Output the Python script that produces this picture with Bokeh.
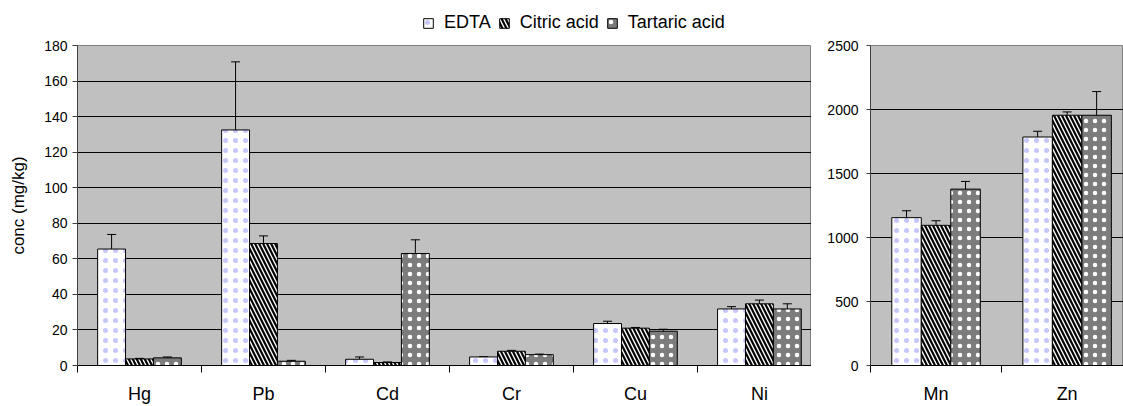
from bokeh.plotting import figure
from bokeh.models import (ColumnDataSource, Range1d, FixedTicker, Whisker, TeeHead,
                          Legend, LegendItem)
from bokeh.layouts import row, column
from bokeh.embed import file_html
from bokeh.resources import INLINE

# ---------------- data ----------------
series = ["EDTA", "Citric acid", "Tartaric acid"]

metals_left = ["Hg", "Pb", "Cd", "Cr", "Cu", "Ni"]
edta_left = [65.5, 132.5, 3.5, 4.8, 23.6, 31.8]
edta_left_err = [8.2, 38.3, 1.3, 0.0, 1.3, 1.3]
citric_left = [3.7, 68.6, 1.7, 8.0, 21.0, 34.7]
citric_left_err = [0.3, 4.3, 0.3, 0.5, 0.4, 2.1]
tartaric_left = [4.3, 2.4, 63.0, 6.1, 19.3, 31.8]
tartaric_left_err = [0.5, 0.5, 7.7, 0.3, 1.1, 2.9]

metals_right = ["Mn", "Zn"]
edta_right = [1155, 1785]
edta_right_err = [54, 45]
citric_right = [1095, 1955]
citric_right_err = [36, 26]
tartaric_right = [1378, 1955]
tartaric_right_err = [60, 185]

yticks_left = [0, 20, 40, 60, 80, 100, 120, 140, 160, 180]
yticks_right = [0, 500, 1000, 1500, 2000, 2500]

# ---------------- styles ----------------
FONT = "Liberation Sans"
# each series: list of layered bar styles (bottom layer first)
styles = [
    [dict(fill_color="white", hatch_pattern=".", hatch_color="#c6c6fb", hatch_scale=10, hatch_weight=1)],
    [dict(fill_color="white", hatch_pattern="\\", hatch_color="black", hatch_scale=8, hatch_weight=2.2)],
    [dict(fill_color="#7c7c7c", hatch_pattern=".", hatch_color="white", hatch_scale=9, hatch_weight=1)],
]
BAR_W = 0.225
OFFSETS = [-0.225, 0.0, 0.225]
LEG_H = 35
TOTAL_H = 406


def make_fig(cats, vals, errs, y_end, yticks, width, min_left, min_top, x_end,
             ylabel, tick_standoff, tick_len):
    p = figure(width=width, height=TOTAL_H - LEG_H, x_range=Range1d(0, x_end), y_range=Range1d(0, y_end),
               output_backend="svg", toolbar_location=None,
               min_border_left=min_left, min_border_right=0, min_border_top=min_top,
               min_border_bottom=40)
    p.background_fill_color = "#c0c0c0"
    p.border_fill_color = "white"
    p.outline_line_color = "#808080"
    p.outline_line_width = 1
    p.xgrid.visible = False
    p.ygrid.ticker = FixedTicker(ticks=yticks)
    p.ygrid.grid_line_color = "black"
    p.ygrid.grid_line_width = 1

    centers = [i + 0.5 for i in range(len(cats))]
    bounds = list(range(len(cats) + 1))

    xa = p.xaxis[0]
    xa.ticker = FixedTicker(ticks=centers, minor_ticks=bounds)
    xa.major_label_overrides = {c: lab for c, lab in zip(centers, cats)}
    xa.major_tick_line_color = None
    xa.major_tick_out = 0
    xa.major_tick_in = 0
    xa.minor_tick_line_color = "black"
    xa.minor_tick_out = 7
    xa.minor_tick_in = 0
    xa.axis_line_color = "black"
    xa.major_label_text_font = FONT
    xa.major_label_text_font_size = "18px"
    xa.major_label_text_color = "black"
    xa.major_label_standoff = 11

    ya = p.yaxis[0]
    ya.ticker = FixedTicker(ticks=yticks)
    ya.minor_tick_line_color = None
    ya.major_tick_out = tick_len
    ya.major_tick_in = 0
    ya.major_tick_line_color = "#404040"
    ya.axis_line_color = "#404040"
    ya.major_label_text_font = FONT
    ya.major_label_text_font_size = "14px"
    ya.major_label_text_color = "black"
    ya.major_label_standoff = tick_standoff
    if ylabel:
        ya.axis_label = ylabel
        ya.axis_label_text_font = FONT
        ya.axis_label_text_font_size = "17px"
        ya.axis_label_text_font_style = "normal"
        ya.axis_label_text_color = "black"
        ya.axis_label_standoff = 13

    for k in range(3):
        xs = [c + OFFSETS[k] for c in centers]
        src = ColumnDataSource(dict(x=xs, top=vals[k],
                                    upper=[v + e for v, e in zip(vals[k], errs[k])],
                                    lower=[v - e for v, e in zip(vals[k], errs[k])]))
        for st in styles[k]:
            p.vbar(x="x", top="top", bottom=0, width=BAR_W, source=src,
                   line_color="black", line_width=1, **st)
        w = Whisker(base="x", upper="upper", lower="lower", source=src,
                    line_color="black", line_width=1,
                    upper_head=TeeHead(size=9, line_color="black", line_width=1),
                    lower_head=TeeHead(size=9, line_color="black", line_width=1))
        p.add_layout(w)
    return p


left = make_fig(metals_left,
                [edta_left, citric_left, tartaric_left],
                [edta_left_err, citric_left_err, tartaric_left_err],
                180, yticks_left, 811, 77, 10, 5.92, "conc (mg/kg)", 5, 5)

right = make_fig(metals_right,
                 [edta_right, citric_right, tartaric_right],
                 [edta_right_err, citric_right_err, tartaric_right_err],
                 2500, yticks_right, 312, 59, 10, 1.93, None, 8, 4)

# legend strip above the charts (key glyphs sit outside the strip's visible range)
leg = figure(width=1123, height=LEG_H, x_range=Range1d(0, 1), y_range=Range1d(0, 1),
             output_backend="svg", toolbar_location=None,
             x_axis_location=None, y_axis_location=None,
             min_border_left=0, min_border_right=0, min_border_top=0, min_border_bottom=0)
leg.grid.visible = False
leg.outline_line_color = None
leg.background_fill_color = "white"
leg.border_fill_color = "white"
items = []
for k in range(3):
    rs = [leg.vbar(x=[5], top=[1], bottom=0, width=0.1,
                   line_color="black", line_width=1, **st) for st in styles[k]]
    items.append(LegendItem(label=series[k], renderers=rs))

legend = Legend(items=items,
                orientation="horizontal", location=(422, 2),
                padding=0, margin=0, spacing=7, label_standoff=10,
                glyph_width=12, glyph_height=12, label_height=18,
                label_text_font=FONT, label_text_font_size="18px",
                label_text_color="black",
                background_fill_alpha=0, border_line_color=None)
leg.add_layout(legend, "center")

layout = column(leg, row(left, right, spacing=0), spacing=0)
open("out.html", "w").write(file_html(layout, INLINE))
